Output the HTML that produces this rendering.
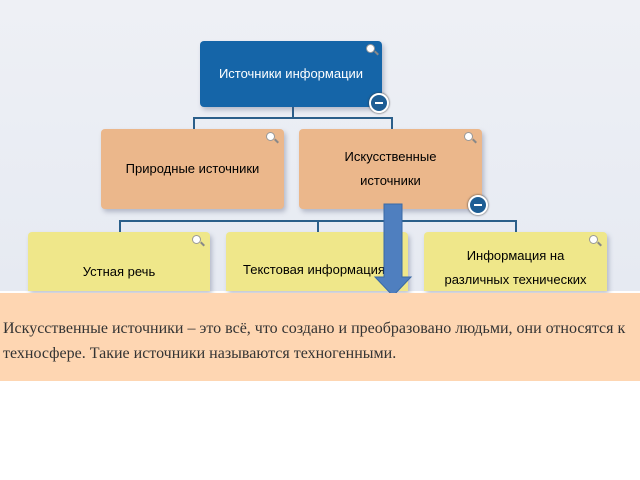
<!DOCTYPE html>
<html><head><meta charset="utf-8"><style>
body{margin:0;width:640px;height:480px;background:#fff;position:relative;overflow:hidden;font-family:"Liberation Sans","DejaVu Sans",sans-serif}
.bg{position:absolute;left:0;top:0;width:640px;height:291px;background:linear-gradient(#eef0f5,#e6eaf2)}
.b{position:absolute;border-radius:4px;display:flex;align-items:center;justify-content:center;text-align:center;font-size:13px;line-height:24px;box-shadow:2px 3px 5px rgba(80,90,120,.35)}
.l{position:absolute;background:#2b5f8a}
.m{position:absolute;width:16px;height:16px;border-radius:50%;background:#1d5d94;border:2px solid #fff;box-shadow:0 0 2px #333}
.m:after{content:"";position:absolute;left:4px;top:7px;width:8px;height:2px;background:#fff}
.q{position:absolute;width:7px;height:7px;border-radius:50%;border:1.5px solid #999;background:#fff}
.q:after{content:"";position:absolute;left:7px;top:7px;width:5px;height:2px;background:#888;transform:rotate(45deg)}
.band{position:absolute;left:0;top:293px;width:640px;height:88px;background:#fed6b2;font-family:"Liberation Serif",serif;font-size:16px;color:#333;line-height:25px;padding:23px 0 0 3px;box-sizing:border-box;white-space:nowrap}
</style></head><body>
<div class="bg"></div>
<div class="l" style="left:292px;top:107px;width:2px;height:12px"></div>
<div class="l" style="left:193px;top:117px;width:200px;height:2px"></div>
<div class="l" style="left:193px;top:117px;width:2px;height:13px"></div>
<div class="l" style="left:391px;top:117px;width:2px;height:13px"></div>
<div class="l" style="left:119px;top:220px;width:398px;height:2px"></div>
<div class="l" style="left:119px;top:220px;width:2px;height:13px"></div>
<div class="l" style="left:317px;top:220px;width:2px;height:13px"></div>
<div class="l" style="left:515px;top:220px;width:2px;height:13px"></div>
<div class="b" style="left:200px;top:41px;width:182px;height:66px;background:#1565a8;color:#fff">Источники информации</div>
<div class="q" style="left:366px;top:44px"></div>
<div class="m" style="left:369px;top:93px"></div>
<div class="b" style="left:101px;top:129px;width:183px;height:80px;background:#ebb78b">Природные источники</div>
<div class="b" style="left:299px;top:129px;width:183px;height:80px;background:#ebb78b">Искусственные<br>источники</div>
<div class="q" style="left:266px;top:132px"></div><div class="q" style="left:464px;top:132px"></div>
<div class="m" style="left:468px;top:195px"></div>
<div class="b" style="left:28px;top:232px;width:182px;height:59px;background:#efe78a;border-radius:4px 4px 0 0;align-items:flex-start;padding-top:28px;box-sizing:border-box">Устная речь</div>
<div class="b" style="left:226px;top:232px;width:182px;height:59px;background:#efe78a;border-radius:4px 4px 0 0;align-items:flex-start;padding-top:26px;box-sizing:border-box;justify-content:flex-start;padding-left:17px;overflow:hidden;white-space:nowrap">Текстовая информация</div>
<div class="b" style="left:424px;top:232px;width:183px;height:59px;background:#efe78a;border-radius:4px 4px 0 0;align-items:flex-start;padding-top:12px;box-sizing:border-box">Информация на<br>различных технических</div>
<div class="q" style="left:192px;top:235px"></div><div class="q" style="left:589px;top:235px"></div>
<svg style="position:absolute;left:0;top:0" width="640" height="300"><path d="M384 204 H402 V277 H411 L393 296 L375 277 H384 Z" fill="#4f7fbf" stroke="#3a6aa5" stroke-width="1"/></svg>
<div class="band">Искусственные источники – это всё, что создано и преобразовано людьми, они относятся к<br>техносфере. Такие источники называются техногенными.</div>
</body></html>
